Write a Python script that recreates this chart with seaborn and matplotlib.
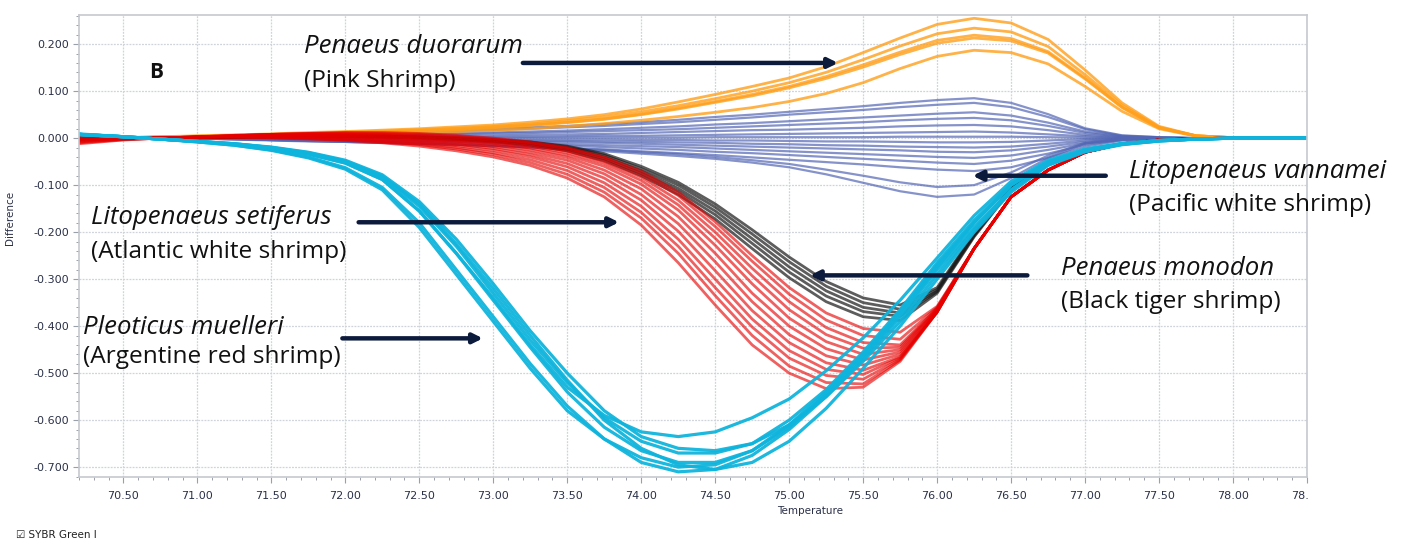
import numpy as np
import pandas as pd
import matplotlib
matplotlib.use("Agg")
import matplotlib.pyplot as plt
from matplotlib.ticker import MultipleLocator, FormatStrFormatter
from matplotlib.patches import Rectangle
import seaborn as sns

# ---------------- data ----------------
TEMPERATURE = [70.2, 70.5, 70.75, 71.0, 71.25, 71.5, 71.75, 72.0, 72.25, 72.5,
               72.75, 73.0, 73.25, 73.5, 73.75, 74.0, 74.25, 74.5, 74.75, 75.0,
               75.25, 75.5, 75.75, 76.0, 76.25, 76.5, 76.75, 77.0, 77.25, 77.5,
               77.75, 78.0, 78.25, 78.5]

# Litopenaeus vannamei (blue)
L_VANNAMEI = [
    [0, 0, 0, 0.002, 0.004, 0.006, 0.008, 0.010, 0.012, 0.015, 0.017, 0.020, 0.023, 0.026, 0.030, 0.034, 0.039, 0.045, 0.050, 0.056, 0.062, 0.068, 0.075, 0.081, 0.085, 0.075, 0.051, 0.021, 0.006, 0.002, 0, 0, 0, 0],
    [0, 0, 0, 0.002, 0.003, 0.005, 0.007, 0.009, 0.011, 0.013, 0.015, 0.017, 0.020, 0.023, 0.026, 0.030, 0.034, 0.039, 0.044, 0.050, 0.055, 0.060, 0.066, 0.071, 0.075, 0.066, 0.045, 0.019, 0.005, 0.002, 0, 0, 0, 0],
    [0, 0, 0, 0.001, 0.002, 0.004, 0.005, 0.007, 0.008, 0.009, 0.011, 0.012, 0.014, 0.016, 0.019, 0.022, 0.025, 0.029, 0.032, 0.036, 0.040, 0.044, 0.048, 0.052, 0.055, 0.048, 0.033, 0.014, 0.004, 0.001, 0, 0, 0, 0],
    [0, 0, 0, 0.001, 0.002, 0.003, 0.004, 0.005, 0.006, 0.007, 0.008, 0.010, 0.011, 0.013, 0.015, 0.017, 0.019, 0.022, 0.025, 0.028, 0.031, 0.034, 0.038, 0.041, 0.043, 0.038, 0.026, 0.011, 0.003, 0.001, 0, 0, 0, 0],
    [0, 0, 0, 0.001, 0.001, 0.002, 0.002, 0.003, 0.004, 0.004, 0.005, 0.006, 0.007, 0.008, 0.009, 0.011, 0.013, 0.015, 0.017, 0.018, 0.020, 0.022, 0.025, 0.027, 0.028, 0.025, 0.017, 0.007, 0.002, 0.001, 0, 0, 0, 0],
    [0, 0, 0, 0, 0.001, 0.001, 0.001, 0.001, 0.002, 0.002, 0.002, 0.003, 0.003, 0.004, 0.005, 0.005, 0.006, 0.007, 0.008, 0.009, 0.010, 0.011, 0.012, 0.013, 0.014, 0.012, 0.008, 0.004, 0.001, 0, 0, 0, 0, 0],
    [0, 0, 0, 0, 0, 0, 0, 0, 0, 0, 0.001, 0.001, 0.001, 0.001, 0.001, 0.001, 0.001, 0.002, 0.002, 0.002, 0.002, 0.002, 0.003, 0.003, 0.003, 0.003, 0.002, 0.001, 0, 0, 0, 0, 0, 0],
    [0, 0, 0, 0, 0, -0.001, -0.001, -0.001, -0.001, -0.002, -0.002, -0.002, -0.003, -0.003, -0.003, -0.004, -0.004, -0.005, -0.005, -0.006, -0.007, -0.007, -0.008, -0.009, -0.009, -0.008, -0.005, -0.002, -0.001, 0, 0, 0, 0, 0],
    [0, 0, 0, 0, -0.001, -0.001, -0.002, -0.002, -0.003, -0.003, -0.004, -0.004, -0.005, -0.006, -0.007, -0.008, -0.009, -0.010, -0.012, -0.013, -0.015, -0.016, -0.018, -0.019, -0.020, -0.018, -0.012, -0.005, -0.001, 0, 0, 0, 0, 0],
    [0, 0, 0, -0.001, -0.001, -0.002, -0.003, -0.004, -0.004, -0.005, -0.006, -0.007, -0.008, -0.009, -0.010, -0.012, -0.014, -0.016, -0.018, -0.020, -0.022, -0.024, -0.026, -0.029, -0.030, -0.026, -0.018, -0.008, -0.002, -0.001, 0, 0, 0, 0],
    [0, 0, 0, -0.001, -0.002, -0.003, -0.004, -0.005, -0.006, -0.007, -0.008, -0.009, -0.011, -0.013, -0.015, -0.017, -0.019, -0.022, -0.025, -0.028, -0.031, -0.034, -0.037, -0.040, -0.042, -0.037, -0.025, -0.011, -0.003, -0.001, 0, 0, 0, 0],
    [0, 0, 0, -0.001, -0.002, -0.004, -0.005, -0.007, -0.008, -0.009, -0.011, -0.012, -0.014, -0.016, -0.019, -0.022, -0.025, -0.029, -0.032, -0.036, -0.040, -0.044, -0.048, -0.052, -0.055, -0.048, -0.033, -0.014, -0.004, -0.001, 0, 0, 0, 0],
    [0, 0, 0, -0.001, -0.003, -0.005, -0.007, -0.008, -0.010, -0.012, -0.014, -0.016, -0.018, -0.021, -0.024, -0.028, -0.032, -0.036, -0.041, -0.046, -0.051, -0.056, -0.062, -0.067, -0.070, -0.062, -0.042, -0.018, -0.005, -0.001, 0, 0, 0, 0],
    [0, 0, 0, -0.001, -0.002, -0.004, -0.006, -0.008, -0.010, -0.012, -0.014, -0.016, -0.019, -0.022, -0.025, -0.030, -0.034, -0.040, -0.047, -0.055, -0.067, -0.080, -0.094, -0.104, -0.100, -0.073, -0.037, -0.010, -0.002, 0, 0, 0, 0, 0],
    [0, 0, 0, -0.001, -0.002, -0.004, -0.006, -0.008, -0.010, -0.012, -0.014, -0.017, -0.020, -0.024, -0.028, -0.033, -0.038, -0.044, -0.052, -0.062, -0.077, -0.095, -0.113, -0.125, -0.120, -0.085, -0.042, -0.012, -0.003, -0.001, 0, 0, 0, 0],
]

# Penaeus duorarum (orange)
P_DUORARUM = [
    [0.0, 0.001, 0.003, 0.005, 0.007, 0.009, 0.012, 0.014, 0.017, 0.020, 0.024, 0.028, 0.034, 0.041, 0.050, 0.062, 0.077, 0.093, 0.110, 0.128, 0.152, 0.182, 0.213, 0.242, 0.255, 0.245, 0.210, 0.145, 0.075, 0.025, 0.005, 0.001, 0.0, 0.0],
    [0.0, 0.001, 0.003, 0.004, 0.006, 0.008, 0.010, 0.013, 0.015, 0.018, 0.021, 0.025, 0.030, 0.037, 0.045, 0.056, 0.069, 0.084, 0.100, 0.118, 0.140, 0.167, 0.196, 0.222, 0.234, 0.226, 0.195, 0.135, 0.070, 0.023, 0.005, 0.001, 0.0, 0.0],
    [0.0, 0.001, 0.002, 0.004, 0.006, 0.007, 0.009, 0.011, 0.013, 0.016, 0.019, 0.023, 0.028, 0.034, 0.041, 0.051, 0.064, 0.078, 0.093, 0.110, 0.131, 0.156, 0.183, 0.208, 0.219, 0.212, 0.184, 0.128, 0.066, 0.022, 0.005, 0.001, 0.0, 0.0],
    [0.0, 0.001, 0.002, 0.003, 0.005, 0.007, 0.009, 0.011, 0.013, 0.015, 0.018, 0.022, 0.027, 0.033, 0.040, 0.050, 0.062, 0.076, 0.090, 0.107, 0.127, 0.151, 0.178, 0.202, 0.213, 0.207, 0.181, 0.126, 0.065, 0.022, 0.005, 0.001, 0.0, 0.0],
    [0.0, 0.001, 0.002, 0.003, 0.004, 0.006, 0.007, 0.009, 0.010, 0.012, 0.014, 0.017, 0.020, 0.025, 0.031, 0.038, 0.046, 0.055, 0.065, 0.078, 0.095, 0.118, 0.148, 0.174, 0.187, 0.182, 0.158, 0.110, 0.057, 0.020, 0.004, 0.001, 0.0, 0.0],
]

# Penaeus monodon (black)
P_MONODON = [
    [-0.005, -0.001, 0.0, 0.001, 0.002, 0.003, 0.003, 0.003, 0.002, 0.0, -0.003, -0.008, -0.015, -0.027, -0.048, -0.080, -0.120, -0.172, -0.235, -0.297, -0.348, -0.380, -0.388, -0.330, -0.210, -0.110, -0.055, -0.027, -0.012, -0.005, -0.002, 0, 0, 0],
    [-0.003, -0.001, 0.0, 0.001, 0.002, 0.003, 0.004, 0.004, 0.003, 0.001, -0.002, -0.006, -0.013, -0.024, -0.044, -0.075, -0.113, -0.163, -0.224, -0.285, -0.336, -0.369, -0.379, -0.327, -0.208, -0.108, -0.054, -0.027, -0.012, -0.005, -0.002, 0, 0, 0],
    [-0.002, 0.0, 0.0, 0.001, 0.002, 0.003, 0.004, 0.004, 0.004, 0.002, -0.001, -0.005, -0.011, -0.021, -0.040, -0.070, -0.107, -0.155, -0.214, -0.274, -0.325, -0.360, -0.372, -0.325, -0.206, -0.107, -0.054, -0.027, -0.012, -0.005, -0.002, 0, 0, 0],
    [0.0, 0.0, 0.0, 0.001, 0.003, 0.004, 0.005, 0.005, 0.004, 0.003, 0.0, -0.004, -0.009, -0.019, -0.036, -0.065, -0.100, -0.147, -0.204, -0.263, -0.315, -0.350, -0.364, -0.322, -0.205, -0.106, -0.053, -0.026, -0.012, -0.005, -0.002, 0, 0, 0],
    [0.002, 0.0, 0.0, 0.001, 0.003, 0.004, 0.005, 0.005, 0.005, 0.003, 0.001, -0.003, -0.008, -0.017, -0.033, -0.060, -0.094, -0.140, -0.195, -0.253, -0.305, -0.340, -0.355, -0.318, -0.203, -0.105, -0.053, -0.026, -0.012, -0.005, -0.002, 0, 0, 0],
]

# Litopenaeus setiferus (red)
L_SETIFERUS = [
    [-0.012, -0.004, 0.0, 0.001, 0.001, 0.0, -0.002, -0.005, -0.010, -0.017, -0.027, -0.040, -0.058, -0.085, -0.125, -0.185, -0.265, -0.355, -0.440, -0.500, -0.533, -0.530, -0.475, -0.370, -0.235, -0.125, -0.068, -0.030, -0.012, -0.004, -0.001, 0, 0, 0],
    [-0.010, -0.003, 0.0, 0.002, 0.002, 0.001, -0.001, -0.004, -0.008, -0.014, -0.023, -0.035, -0.052, -0.077, -0.115, -0.170, -0.245, -0.335, -0.420, -0.485, -0.520, -0.523, -0.472, -0.370, -0.235, -0.125, -0.068, -0.030, -0.012, -0.004, -0.001, 0, 0, 0],
    [-0.008, -0.003, 0.0, 0.002, 0.003, 0.002, 0.0, -0.003, -0.007, -0.012, -0.020, -0.031, -0.046, -0.069, -0.105, -0.158, -0.230, -0.318, -0.402, -0.468, -0.505, -0.513, -0.470, -0.370, -0.235, -0.125, -0.068, -0.030, -0.012, -0.004, -0.001, 0, 0, 0],
    [-0.006, -0.002, 0.0, 0.002, 0.003, 0.003, 0.002, 0.0, -0.004, -0.009, -0.016, -0.026, -0.040, -0.061, -0.095, -0.145, -0.215, -0.300, -0.385, -0.452, -0.492, -0.503, -0.467, -0.370, -0.235, -0.125, -0.068, -0.030, -0.012, -0.004, -0.001, 0, 0, 0],
    [-0.004, -0.001, 0.0, 0.002, 0.004, 0.004, 0.003, 0.001, -0.002, -0.007, -0.013, -0.022, -0.035, -0.054, -0.085, -0.132, -0.198, -0.282, -0.367, -0.435, -0.478, -0.494, -0.465, -0.370, -0.235, -0.125, -0.068, -0.030, -0.012, -0.004, -0.001, 0, 0, 0],
    [-0.002, 0.0, 0.0, 0.003, 0.004, 0.005, 0.004, 0.003, 0.0, -0.004, -0.010, -0.018, -0.030, -0.047, -0.076, -0.120, -0.182, -0.263, -0.348, -0.418, -0.463, -0.483, -0.460, -0.368, -0.235, -0.125, -0.068, -0.030, -0.012, -0.004, -0.001, 0, 0, 0],
    [0.0, 0.0, 0.0, 0.003, 0.005, 0.006, 0.006, 0.005, 0.002, -0.002, -0.007, -0.014, -0.025, -0.041, -0.068, -0.108, -0.167, -0.245, -0.330, -0.400, -0.448, -0.472, -0.455, -0.366, -0.235, -0.125, -0.068, -0.030, -0.012, -0.004, -0.001, 0, 0, 0],
    [0.002, 0.001, 0.0, 0.003, 0.005, 0.007, 0.007, 0.006, 0.004, 0.0, -0.005, -0.011, -0.021, -0.036, -0.060, -0.098, -0.153, -0.228, -0.310, -0.383, -0.433, -0.460, -0.450, -0.365, -0.235, -0.125, -0.068, -0.030, -0.012, -0.004, -0.001, 0, 0, 0],
    [0.003, 0.001, 0.0, 0.003, 0.006, 0.008, 0.008, 0.008, 0.006, 0.003, -0.002, -0.008, -0.017, -0.031, -0.054, -0.090, -0.142, -0.213, -0.293, -0.365, -0.418, -0.447, -0.445, -0.363, -0.235, -0.125, -0.068, -0.030, -0.012, -0.004, -0.001, 0, 0, 0],
    [0.004, 0.002, 0.0, 0.002, 0.005, 0.008, 0.009, 0.009, 0.008, 0.005, 0.001, -0.005, -0.013, -0.027, -0.049, -0.083, -0.132, -0.200, -0.277, -0.348, -0.403, -0.435, -0.440, -0.362, -0.235, -0.125, -0.068, -0.030, -0.012, -0.004, -0.001, 0, 0, 0],
    [0.005, 0.002, 0.0, 0.002, 0.005, 0.008, 0.010, 0.011, 0.010, 0.008, 0.004, -0.002, -0.010, -0.022, -0.043, -0.076, -0.122, -0.188, -0.262, -0.332, -0.387, -0.420, -0.428, -0.360, -0.235, -0.125, -0.068, -0.030, -0.012, -0.004, -0.001, 0, 0, 0],
    [0.007, 0.002, 0.0, 0.002, 0.005, 0.008, 0.010, 0.012, 0.012, 0.010, 0.006, 0.0, -0.008, -0.020, -0.040, -0.070, -0.115, -0.178, -0.250, -0.318, -0.372, -0.405, -0.413, -0.358, -0.235, -0.125, -0.068, -0.030, -0.012, -0.004, -0.001, 0, 0, 0],
]

# Pleoticus muelleri (cyan)
P_MUELLERI = [
    [0.008, 0.003, -0.002, -0.008, -0.015, -0.026, -0.042, -0.066, -0.110, -0.190, -0.290, -0.390, -0.490, -0.580, -0.640, -0.680, -0.700, -0.695, -0.665, -0.610, -0.540, -0.460, -0.370, -0.270, -0.180, -0.100, -0.052, -0.026, -0.012, -0.005, -0.002, 0.0, 0.0, 0.0],
    [0.007, 0.003, -0.002, -0.008, -0.015, -0.025, -0.040, -0.063, -0.105, -0.180, -0.280, -0.380, -0.480, -0.570, -0.640, -0.690, -0.710, -0.705, -0.675, -0.620, -0.550, -0.470, -0.380, -0.280, -0.190, -0.110, -0.056, -0.028, -0.013, -0.006, -0.002, 0.0, 0.0, 0.0],
    [0.008, 0.003, -0.002, -0.007, -0.013, -0.021, -0.034, -0.053, -0.088, -0.155, -0.245, -0.345, -0.445, -0.540, -0.615, -0.665, -0.690, -0.690, -0.665, -0.615, -0.545, -0.465, -0.375, -0.275, -0.180, -0.100, -0.052, -0.026, -0.012, -0.005, -0.002, 0.0, 0.0, 0.0],
    [0.008, 0.003, -0.002, -0.007, -0.012, -0.020, -0.032, -0.050, -0.083, -0.145, -0.230, -0.330, -0.430, -0.520, -0.595, -0.645, -0.670, -0.670, -0.650, -0.600, -0.535, -0.455, -0.365, -0.265, -0.175, -0.098, -0.050, -0.025, -0.012, -0.005, -0.002, 0.0, 0.0, 0.0],
    [0.009, 0.003, -0.002, -0.007, -0.012, -0.019, -0.030, -0.047, -0.078, -0.135, -0.215, -0.310, -0.410, -0.500, -0.580, -0.635, -0.660, -0.665, -0.650, -0.610, -0.550, -0.475, -0.390, -0.290, -0.195, -0.110, -0.056, -0.028, -0.013, -0.006, -0.002, 0.0, 0.0, 0.0],
    [0.008, 0.003, -0.002, -0.007, -0.013, -0.021, -0.034, -0.053, -0.088, -0.155, -0.245, -0.340, -0.440, -0.530, -0.590, -0.625, -0.635, -0.625, -0.595, -0.555, -0.495, -0.425, -0.345, -0.255, -0.165, -0.092, -0.047, -0.023, -0.011, -0.005, -0.002, 0.0, 0.0, 0.0],
    [0.008, 0.003, -0.002, -0.007, -0.012, -0.020, -0.031, -0.049, -0.081, -0.140, -0.225, -0.320, -0.420, -0.515, -0.600, -0.660, -0.695, -0.705, -0.690, -0.645, -0.575, -0.490, -0.400, -0.300, -0.200, -0.115, -0.058, -0.029, -0.014, -0.006, -0.002, 0.0, 0.0, 0.0],
]

X_TICKS = [70.5, 71.0, 71.5, 72.0, 72.5, 73.0, 73.5, 74.0, 74.5, 75.0, 75.5,
           76.0, 76.5, 77.0, 77.5, 78.0, 78.5]
Y_TICKS = [0.2, 0.1, 0.0, -0.1, -0.2, -0.3, -0.4, -0.5, -0.6, -0.7]

# ---------------- build long table ----------------
groups = [
    ("L. vannamei", L_VANNAMEI, dict(color="#5266b4", lw=1.6, alpha=0.7)),
    ("P. duorarum", P_DUORARUM, dict(color="#ff9f1a", lw=2.0, alpha=0.8)),
    ("P. monodon", P_MONODON, dict(color="#1e1e1e", lw=2.0, alpha=0.72)),
    ("L. setiferus", L_SETIFERUS, dict(color="#e60000", lw=2.0, alpha=0.62)),
    ("P. muelleri", P_MUELLERI, dict(color="#0fb4dc", lw=2.3, alpha=0.95)),
]
rows = []
for name, curves, _ in groups:
    for ci, curve in enumerate(curves):
        for t, v in zip(TEMPERATURE, curve):
            rows.append((name, f"{name}-{ci}", t, v))
df = pd.DataFrame(rows, columns=["species", "curve", "temp", "diff"])

# ---------------- figure ----------------
sns.set_theme(style="white")
plt.rcParams["font.family"] = ["DejaVu Sans"]

fig = plt.figure(figsize=(14.03, 5.41), dpi=100)
ax = fig.add_axes([79 / 1403, 1 - 477 / 541, (1307 - 79) / 1403, (477 - 15) / 541])

for name, curves, style in groups:
    sns.lineplot(data=df[df["species"] == name], x="temp", y="diff", units="curve",
                 estimator=None, sort=False, ax=ax, legend=False,
                 color=style["color"], linewidth=style["lw"], alpha=style["alpha"],
                 solid_joinstyle="round", solid_capstyle="round")

ax.set_xlim(70.2, 78.5)
ax.set_ylim(-0.721, 0.262)
ax.set_xticks(X_TICKS)
ax.set_yticks(Y_TICKS)
ax.xaxis.set_major_formatter(FormatStrFormatter("%.2f"))
ax.yaxis.set_major_formatter(FormatStrFormatter("%.3f"))
ax.xaxis.set_minor_locator(MultipleLocator(0.1))
ax.yaxis.set_minor_locator(MultipleLocator(0.02))
ax.grid(True, which="major", color="#cfd3da", linestyle=(0, (1.5, 1.0)), linewidth=0.9)
ax.set_axisbelow(True)
for sp in ax.spines.values():
    sp.set_color("#c5c9d0")
    sp.set_linewidth(1.2)
ax.tick_params(axis="both", which="major", direction="out", length=4, width=0.8,
               color="#9aa0aa", labelsize=8, labelcolor="#2a3048",
               bottom=True, left=True)
ax.tick_params(axis="both", which="minor", direction="out", length=2.5, width=0.7,
               color="#9aa0aa", bottom=True, left=True)
ax.tick_params(axis="x", pad=6)
ax.tick_params(axis="y", pad=3)

ax.set_xlabel("Temperature", fontsize=7.5, color="#2a3048")
ax.set_ylabel("Difference", fontsize=7.5, color="#2a3048")
ax.xaxis.set_label_coords(0.595, -0.062)
ax.yaxis.set_label_coords(-0.052, 0.56)

# ---------------- annotations ----------------
afont = ["Open Sans", "DejaVu Sans"]
fs_it = 18.5
fs_rg = 17.6
arrow_kw = dict(arrowstyle="-|>", color="#0c1a3c", lw=3.2, mutation_scale=14,
                shrinkA=0, shrinkB=0)

ax.text(70.72, 0.140, "B", fontsize=15, fontweight="bold", family=afont,
        ha="center", va="center", color="#111111")

labels = [
    (71.72, 71.72, 0.196, 0.121, "Penaeus duorarum", "(Pink Shrimp)", (73.2, 0.160), (75.33, 0.160)),
    (70.28, 70.28, -0.168, -0.243, "Litopenaeus setiferus", "(Atlantic white shrimp)", (72.09, -0.179), (73.85, -0.179)),
    (70.23, 70.23, -0.402, -0.466, "Pleoticus muelleri", "(Argentine red shrimp)", (71.98, -0.426), (72.93, -0.426)),
    (77.30, 77.30, -0.070, -0.143, "Litopenaeus vannamei", "(Pacific white shrimp)", (77.14, -0.080), (76.24, -0.080)),
    (76.84, 76.84, -0.277, -0.349, "Penaeus monodon", "(Black tiger shrimp)", (76.61, -0.292), (75.14, -0.292)),
]
for x1, x2, y1, y2, sci, common, a0, a1 in labels:
    ax.text(x1, y1, sci, fontsize=fs_it, style="italic", family=afont,
            ha="left", va="center", color="#111111")
    ax.text(x2, y2, common, fontsize=fs_rg, family=afont,
            ha="left", va="center", color="#111111")
    ax.annotate("", xy=a1, xytext=a0, arrowprops=arrow_kw)

# white cover beyond the right edge of the plot (as in the cropped original)
fig.patches.append(Rectangle((1309 / 1403, 0), 1, 1 - 479 / 541,
                             transform=fig.transFigure, facecolor="white",
                             edgecolor="none", zorder=10))

fig.text(16 / 1403, 1 - 535 / 541, "\u2611 SYBR Green I", fontsize=7.5,
         family=["DejaVu Sans"], color="#222222", ha="left", va="center")

fig.savefig("out.png", dpi=100, facecolor="white")
